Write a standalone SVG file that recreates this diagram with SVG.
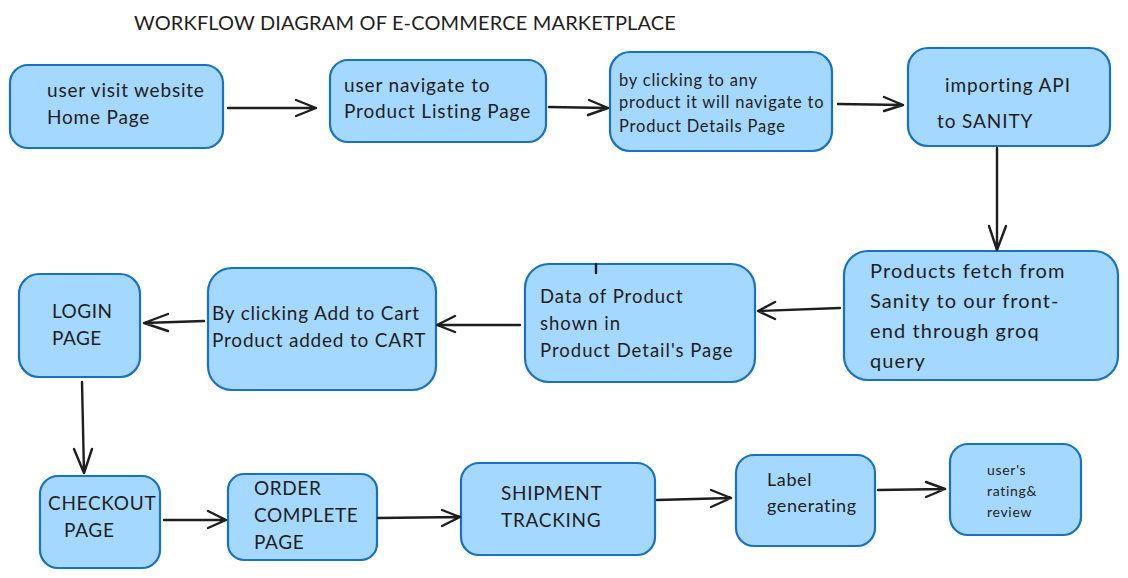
<svg xmlns="http://www.w3.org/2000/svg" width="1128" height="578" viewBox="0 0 1128 578">
<style>
.box{fill:#a5d8ff;stroke:#1971c2;stroke-width:2.2}
.t{font-family:Lato,"Liberation Sans",sans-serif;fill:#1e1e1e}
.conn path{fill:none;stroke:#1e1e1e;stroke-width:2.4;stroke-linecap:round;stroke-linejoin:round}
</style>
<rect width="1128" height="578" fill="#ffffff"/>
<text class="t" x="134" y="30" font-size="20" letter-spacing="0.15">WORKFLOW DIAGRAM OF E-COMMERCE MARKETPLACE</text>

<g id="n1"><rect class="box" x="10" y="65" width="213" height="83" rx="18"/>
<text class="t" font-size="19" letter-spacing="0.8"><tspan x="47" y="97">user visit website</tspan><tspan x="47" y="124">Home Page</tspan></text></g>

<g id="n2"><rect class="box" x="330" y="60" width="216" height="82" rx="18"/>
<text class="t" font-size="19" letter-spacing="0.85"><tspan x="344" y="92">user navigate to</tspan><tspan x="344" y="118">Product Listing Page</tspan></text></g>

<g id="n3"><rect class="box" x="610" y="52" width="222" height="99" rx="20"/>
<text class="t" font-size="16.5" letter-spacing="0.8"><tspan x="619" y="86">by clicking to any</tspan><tspan x="619" y="108">product it will navigate  to</tspan><tspan x="619" y="132">Product Details Page</tspan></text></g>

<g id="n4"><rect class="box" x="908" y="48" width="202" height="98" rx="20"/>
<text class="t" font-size="19" letter-spacing="0.9"><tspan x="945" y="92">importing API</tspan><tspan x="937" y="128">to SANITY</tspan></text></g>

<g id="n5"><rect class="box" x="844" y="251" width="274" height="129" rx="24"/>
<text class="t" font-size="20" letter-spacing="1.1"><tspan x="870" y="278">Products fetch from</tspan><tspan x="870" y="308">Sanity to our front-</tspan><tspan x="870" y="338">end through groq</tspan><tspan x="870" y="368">query</tspan></text></g>

<g id="n6"><rect class="box" x="525" y="264" width="230" height="118" rx="24"/>
<text class="t" font-size="18.5" letter-spacing="1"><tspan x="540" y="303">Data of Product</tspan><tspan x="540" y="330">shown in</tspan><tspan x="540" y="357">Product Detail's Page</tspan></text></g>

<g id="n7"><rect class="box" x="208" y="268" width="228" height="122" rx="24"/>
<text class="t" font-size="19" letter-spacing="0.8"><tspan x="212" y="320">By clicking Add to Cart</tspan><tspan x="212" y="347">Product added to CART</tspan></text></g>

<g id="n8"><rect class="box" x="19" y="274" width="121" height="103" rx="20"/>
<text class="t" font-size="19" letter-spacing="0.5"><tspan x="52" y="318">LOGIN</tspan><tspan x="52" y="345">PAGE</tspan></text></g>

<g id="n9"><rect class="box" x="40" y="476" width="120" height="92" rx="18"/>
<text class="t" font-size="19" letter-spacing="0.7"><tspan x="48" y="510">CHECKOUT</tspan><tspan x="64" y="537">PAGE</tspan></text></g>

<g id="n10"><rect class="box" x="228" y="474" width="149" height="86" rx="16"/>
<text class="t" font-size="19" letter-spacing="0.6"><tspan x="254" y="495">ORDER</tspan><tspan x="254" y="522">COMPLETE</tspan><tspan x="254" y="549">PAGE</tspan></text></g>

<g id="n11"><rect class="box" x="461" y="463" width="194" height="92" rx="18"/>
<text class="t" font-size="19" letter-spacing="0.7"><tspan x="501" y="500">SHIPMENT</tspan><tspan x="501" y="527">TRACKING</tspan></text></g>

<g id="n12"><rect class="box" x="736" y="455" width="139" height="91" rx="18"/>
<text class="t" font-size="18" letter-spacing="0.6"><tspan x="767" y="486">Label</tspan><tspan x="767" y="512">generating</tspan></text></g>

<g id="n13"><rect class="box" x="950" y="444" width="131" height="91" rx="18"/>
<text class="t" font-size="14" letter-spacing="0.7"><tspan x="987" y="475">user's</tspan><tspan x="987" y="496">rating&amp;</tspan><tspan x="987" y="517">review</tspan></text></g>

<g id="connectors" class="conn">
<path d="M228 108 L316 108 M296 100 L316 108 L296 116"/>
<path d="M549 107 L608 108 M589 100 L608 108 L588 115"/>
<path d="M838 104 L903 105 M884 97 L903 105 L884 111"/>
<path d="M997 148 L997 250 M989 226 L997 250 L1006 226"/>
<path d="M840 308 L758 311 M775 302 L758 311 L775 319"/>
<path d="M520 325 L437 325 M455 316 L437 325 L455 332"/>
<path d="M204 321 L144 323 M168 314 L144 323 L168 331"/>
<path d="M82 382 L84 473 M74 449 L84 473 L92 449"/>
<path d="M164 520 L226 520 M208 511 L226 520 L208 528"/>
<path d="M378 518 L460 517 M442 510 L460 517 L442 526"/>
<path d="M657 500 L731 498 M711 490 L731 498 L711 507"/>
<path d="M878 490 L945 489 M926 482 L945 489 L926 497"/>
<path d="M596 264 L596 273"/>
</g>
</svg>
